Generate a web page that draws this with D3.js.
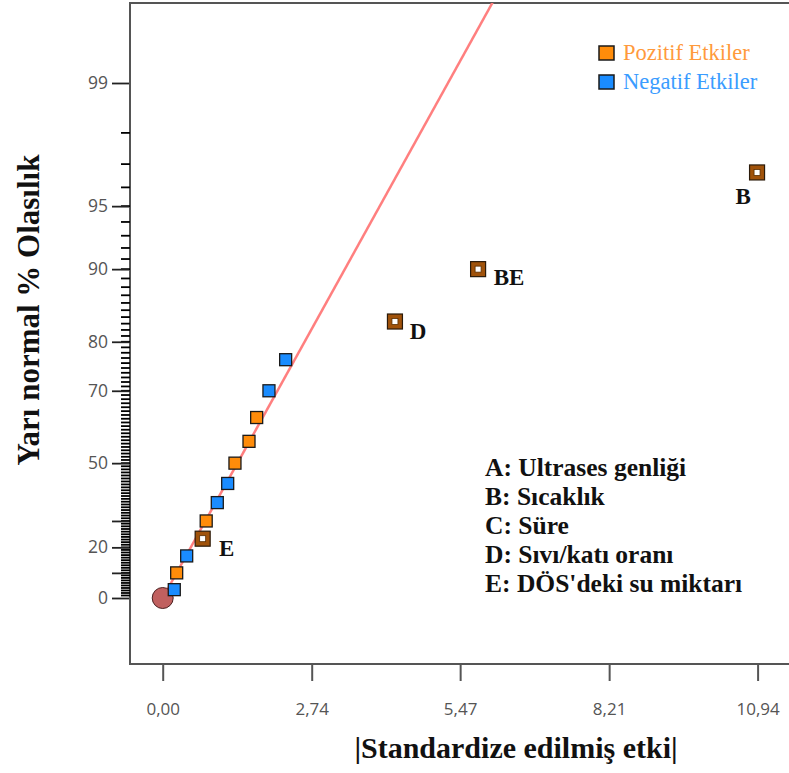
<!DOCTYPE html>
<html>
<head>
<meta charset="utf-8">
<script src="https://cdn.jsdelivr.net/npm/d3@7/dist/d3.min.js"></script>
<style>
  html, body { margin: 0; padding: 0; background: #fff; }
  svg { display: block; }
</style>
</head>
<body>
<script>
// ---------------- DATA ----------------
const effectSize   = [0.213, 0.257, 0.441, 0.735, 0.80, 1.004, 1.195, 1.329, 1.587, 1.728, 1.954, 2.261, 4.271, 5.80, 10.93];
const effectProb   = [3.33, 10, 16.67, 23.33, 30, 36.67, 43.33, 50, 56.67, 63.33, 70, 76.67, 83.33, 90, 96.67];
const effectSign   = ["neg","pos","neg","pos","pos","neg","neg","pos","pos","pos","neg","neg","pos","pos","pos"];
const effectLabel  = ["","","","E","","","","","","","","","D","BE","B"];
const errorPoint   = [0, 0];           // [|effect|, % probability]
const fitSlope     = 0.491;            // half-normal quantile per unit |effect|
const xTickValues  = [0, 2.74, 5.47, 8.21, 10.94];
const yTickLabels  = [0, 20, 50, 70, 80, 90, 95, 99];
const yTickUnlabeled = [10, 30];
const yMinorTicks  = d3.range(1, 99);
const legendItems  = ["Pozitif Etkiler", "Negatif Etkiler"];
const legendKeys   = ["pos", "neg"];
const factorNotes  = ["A: Ultrases genliği", "B: Sıcaklık", "C: Süre", "D: Sıvı/katı oranı", "E: DÖS'deki su miktarı"];
const xTitle = "|Standardize edilmiş etki|";
const yTitle = "Yarı normal % Olasılık";

// ---------------- HELPERS ----------------
function probit(p) {
  const a=[-3.969683028665376e+01,2.209460984245205e+02,-2.759285104469687e+02,1.383577518672690e+02,-3.066479806614716e+01,2.506628277459239e+00];
  const b=[-5.447609879822406e+01,1.615858368580409e+02,-1.556989798598866e+02,6.680131188771972e+01,-1.328068155288572e+01];
  const c=[-7.784894002430293e-03,-3.223964580411365e-01,-2.400758276141917e+00,-2.549671627405475e+00,4.374664141464968e+00,2.938163982698783e+00];
  const d=[7.784695709041462e-03,3.224671290700398e-01,2.445134137142996e+00,3.754408661907416e+00];
  const pl=0.02425, ph=1-pl; let q,r;
  if (p < pl) { q=Math.sqrt(-2*Math.log(p)); return (((((c[0]*q+c[1])*q+c[2])*q+c[3])*q+c[4])*q+c[5])/((((d[0]*q+d[1])*q+d[2])*q+d[3])*q+1); }
  if (p <= ph) { q=p-0.5; r=q*q; return (((((a[0]*r+a[1])*r+a[2])*r+a[3])*r+a[4])*r+a[5])*q/(((((b[0]*r+b[1])*r+b[2])*r+b[3])*r+b[4])*r+1); }
  q=Math.sqrt(-2*Math.log(1-p)); return -(((((c[0]*q+c[1])*q+c[2])*q+c[3])*q+c[4])*q+c[5])/((((d[0]*q+d[1])*q+d[2])*q+d[3])*q+1);
}
const halfZ = pct => pct <= 0 ? 0 : probit(0.5 + pct / 200);

// ---------------- LAYOUT ----------------
const W = 789, H = 773;
const plotLeft = 130, plotTop = 3, plotBottom = 664, plotRight = 800;

const x = d3.scaleLinear().domain([0, 10.94]).range([162.7, 757.6]);
const yz = d3.scaleLinear().domain([0, halfZ(99)]).range([598, 83]);
const y = pct => yz(halfZ(pct));

const svg = d3.select("body").append("svg").attr("width", W).attr("height", H)
  .style("font-family", "'Liberation Serif', 'Times New Roman', serif");

const colors = { pos: "#ff8c0a", neg: "#1a8cff" };
const axisGrey = "#555";

svg.append("defs").append("clipPath").attr("id", "plotclip")
  .append("rect").attr("x", plotLeft).attr("y", plotTop)
  .attr("width", plotRight - plotLeft).attr("height", plotBottom - plotTop);

// frame
svg.append("path")
  .attr("d", `M${plotRight},${plotTop}H${plotLeft}V${plotBottom}H${plotRight}`)
  .attr("fill", "none").attr("stroke", axisGrey).attr("stroke-width", 2);

// Y axis: minor ticks (every 1 %)
svg.append("g").attr("class", "yminor")
  .selectAll("line").data(yMinorTicks).join("line")
  .attr("x1", plotLeft - 9).attr("x2", plotLeft)
  .attr("y1", d => y(d)).attr("y2", d => y(d))
  .attr("stroke", "#000").attr("stroke-width", 1.8);

// Y axis: unlabeled major ticks
const yMidAxis = d3.axisLeft(yz).tickValues(yTickUnlabeled.map(halfZ)).tickSize(17).tickFormat(() => "");
const gMid = svg.append("g").attr("class", "ymid").attr("transform", `translate(${plotLeft - 1},0)`).call(yMidAxis);
gMid.select(".domain").remove();
gMid.selectAll(".tick line").attr("stroke", "#222").attr("stroke-width", 1.8);

// Y axis: labeled ticks
const yAxis = d3.axisLeft(yz).tickValues(yTickLabels.map(halfZ)).tickSize(17).tickPadding(4)
  .tickFormat((d, i) => yTickLabels[i]);
const gY = svg.append("g").attr("class", "ymajor").attr("transform", `translate(${plotLeft - 1},0)`).call(yAxis);
gY.select(".domain").remove();
gY.selectAll(".tick line").attr("stroke", "#222").attr("stroke-width", 1.8);
gY.selectAll("text").attr("font-family", "'Open Sans', sans-serif").attr("font-size", 17.5).attr("fill", "#555");

// X axis
const xAxis = d3.axisBottom(x).tickValues(xTickValues).tickSize(17).tickPadding(22)
  .tickFormat(d => d.toFixed(2).replace(".", ","));
const gX = svg.append("g").attr("transform", `translate(0,${plotBottom})`).call(xAxis);
gX.select(".domain").remove();
gX.selectAll("line").attr("stroke", axisGrey).attr("stroke-width", 2);
gX.selectAll("text").attr("font-family", "'Open Sans', sans-serif").attr("font-size", 17).attr("fill", "#555");

// Titles
svg.append("text").attr("x", 516).attr("y", 758).attr("text-anchor", "middle")
  .attr("font-weight", "bold").attr("font-size", 30).attr("fill", "#111").text(xTitle);
svg.append("text").attr("transform", "translate(39,310) rotate(-90)").attr("text-anchor", "middle")
  .attr("font-weight", "bold").attr("font-size", 31).attr("fill", "#111").text(yTitle);

// Fit line
const plot = svg.append("g").attr("clip-path", "url(#plotclip)");
const fitEnd = 8;
plot.append("line")
  .attr("x1", x(0)).attr("y1", yz(0))
  .attr("x2", x(fitEnd)).attr("y2", yz(fitSlope * fitEnd))
  .attr("stroke", "#ff7f7f").attr("stroke-width", 2.5);

// Error point
plot.append("circle").attr("cx", x(errorPoint[0])).attr("cy", y(errorPoint[1])).attr("r", 10.5)
  .attr("fill", "#c0605f").attr("stroke", "#4a2020").attr("stroke-width", 1);

// Effects
const pts = effectSize.map((v, i) => ({ v, p: effectProb[i], s: effectSign[i], l: effectLabel[i] }));
pts.forEach(d => {
  const cx = x(d.v), cy = y(d.p);
  if (d.l) {
    plot.append("rect").attr("x", cx - 7.5).attr("y", cy - 7.5).attr("width", 15).attr("height", 15)
      .attr("fill", "#a0520a").attr("stroke", "#2a1a0a").attr("stroke-width", 1.2);
    plot.append("rect").attr("x", cx - 3).attr("y", cy - 3).attr("width", 6).attr("height", 6)
      .attr("fill", "#fff").attr("stroke", "#5a2e00").attr("stroke-width", 0.8);
  } else {
    plot.append("rect").attr("x", cx - 6).attr("y", cy - 6).attr("width", 12).attr("height", 12)
      .attr("fill", colors[d.s]).attr("stroke", "#1a1a1a").attr("stroke-width", 1.3);
  }
});

// Point labels
const labelOffset = { "E": [24, 9], "D": [23, 9], "BE": [31, 8], "B": [-14, 24] };
pts.filter(d => d.l).forEach(d => {
  const off = labelOffset[d.l];
  svg.append("text").attr("x", x(d.v) + off[0]).attr("y", y(d.p) + off[1] + 8)
    .attr("text-anchor", "middle").attr("font-weight", "bold").attr("font-size", 23)
    .attr("fill", "#111").text(d.l);
});

// Legend
legendItems.forEach((t, i) => {
  const ly = 53 + i * 29;
  svg.append("rect").attr("x", 599).attr("y", ly - 7).attr("width", 15).attr("height", 14)
    .attr("fill", colors[legendKeys[i]]).attr("stroke", "#1a1a1a").attr("stroke-width", 1.5);
  svg.append("text").attr("x", 623).attr("y", ly + 7).attr("font-size", 22.5)
    .attr("fill", i === 0 ? "#ff9a3c" : "#3a9cff").text(t);
});

// Factor notes
factorNotes.forEach((t, i) => {
  svg.append("text").attr("x", 485).attr("y", 476 + i * 29)
    .attr("font-weight", "bold").attr("font-size", 25.5).attr("fill", "#111").text(t);
});
</script>
</body>
</html>
